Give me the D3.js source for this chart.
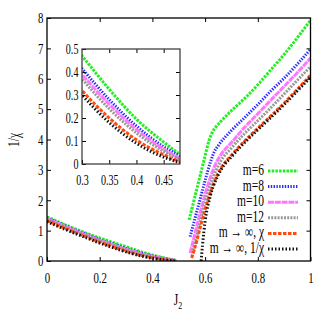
<!DOCTYPE html>
<html>
<head>
<meta charset="utf-8">
<script src="https://cdn.jsdelivr.net/npm/d3@7"></script>
<style>
  body { margin: 0; background: #fff; }
  text { font-family: "Liberation Serif", "DejaVu Serif", serif; }
</style>
</head>
<body>
<div id="chart"></div>
<script>
// left branch (J2 < 0.5), shared grid
const leftJ = [0, 0.05, 0.1, 0.15, 0.2, 0.25, 0.3, 0.35, 0.4, 0.45, 0.475, 0.49];
const m6Left  = [1.45, 1.26, 1.08, 0.91, 0.76, 0.61, 0.47, 0.325, 0.195, 0.095, 0.05, 0.02];
const m8Left  = [1.42, 1.23, 1.05, 0.88, 0.71, 0.56, 0.415, 0.28, 0.165, 0.075, 0.04, 0.015];
const m10Left = [1.40, 1.21, 1.03, 0.86, 0.69, 0.54, 0.39, 0.26, 0.15, 0.065, 0.03, 0.01];
const m12Left = [1.38, 1.19, 1.01, 0.84, 0.67, 0.52, 0.37, 0.24, 0.135, 0.055, 0.025, 0.008];
const chiLeft = [1.33, 1.14, 0.96, 0.79, 0.62, 0.47, 0.32, 0.2, 0.105, 0.04, 0.015, 0.004];
const invLeft = [1.30, 1.11, 0.93, 0.76, 0.59, 0.44, 0.30, 0.18, 0.09, 0.03, 0.01, 0.0];

// right branch (J2 > 0.54), each series has its own start
const m6RightJ = [0.539, 0.56, 0.58, 0.60, 0.615, 0.627, 0.64, 0.66, 0.70, 0.75, 0.80, 0.85, 0.90, 0.95, 1.0];
const m6Right  = [1.35, 2.07, 2.77, 3.46, 3.97, 4.23, 4.4, 4.6, 4.95, 5.35, 5.8, 6.3, 6.8, 7.35, 7.93];
const m8RightJ = [0.543, 0.56, 0.58, 0.60, 0.62, 0.635, 0.65, 0.70, 0.75, 0.80, 0.85, 0.90, 0.95, 1.0];
const m8Right  = [0.8, 1.35, 2.0, 2.65, 3.25, 3.6, 3.8, 4.3, 4.72, 5.15, 5.6, 6.02, 6.48, 6.97];
const m10RightJ = [0.543, 0.56, 0.58, 0.60, 0.62, 0.64, 0.66, 0.70, 0.75, 0.80, 0.85, 0.90, 0.95, 1.0];
const m10Right  = [0.26, 0.85, 1.55, 2.2, 2.75, 3.2, 3.5, 3.9, 4.4, 4.85, 5.3, 5.75, 6.2, 6.68];
const m12RightJ = [0.55, 0.56, 0.58, 0.60, 0.62, 0.64, 0.66, 0.70, 0.75, 0.80, 0.85, 0.90, 0.95, 1.0];
const m12Right  = [0.15, 0.5, 1.25, 1.95, 2.5, 2.95, 3.3, 3.72, 4.2, 4.62, 5.05, 5.5, 5.95, 6.4];
const chiRightJ = [0.549, 0.56, 0.58, 0.60, 0.62, 0.64, 0.66, 0.70, 0.75, 0.80, 0.85, 0.90, 0.95, 1.0];
const chiRight  = [0.1, 0.4, 1.05, 1.7, 2.25, 2.7, 3.05, 3.48, 3.95, 4.37, 4.78, 5.2, 5.65, 6.12];
const invRightJ = [0.585, 0.59, 0.60, 0.62, 0.64, 0.66, 0.70, 0.75, 0.80, 0.85, 0.90, 0.95, 1.0];
const invRight  = [0.0, 0.5, 1.3, 2.15, 2.65, 3.0, 3.43, 3.9, 4.32, 4.73, 5.15, 5.6, 6.05];

const labels = ["m=6", "m=8", "m=10", "m=12", "m \u2192 \u221e, \u03c7", "m \u2192 \u221e, 1/\u03c7"];
const colors = ["#22ee22", "#2a2aff", "#ff77ff", "#999999", "#ff4a10", "#111111"];
const dashes = ["2.5,1.2", "1.4,1.4", "6,0.8", "2,1.2", "3.5,1.5", "1.5,2"];

const xTicks = [0, 0.2, 0.4, 0.6, 0.8, 1];
const yTicks = [0, 1, 2, 3, 4, 5, 6, 7, 8];
const insetXTicks = [0.3, 0.35, 0.4, 0.45];
const insetYTicks = [0, 0.1, 0.2, 0.3, 0.4, 0.5];

const zip = (js, vs) => js.map((j, i) => ({ j: j, v: vs[i] }));
const series = [
    [zip(leftJ, m6Left), zip(m6RightJ, m6Right)],
    [zip(leftJ, m8Left), zip(m8RightJ, m8Right)],
    [zip(leftJ, m10Left), zip(m10RightJ, m10Right)],
    [zip(leftJ, m12Left), zip(m12RightJ, m12Right)],
    [zip(leftJ, chiLeft), zip(chiRightJ, chiRight)],
    [zip(leftJ, invLeft), zip(invRightJ, invRight)]
];

const W = 327, H = 327;
const margin = { top: 18, right: 16.5, bottom: 66, left: 47 };
const width = W - margin.left - margin.right,
      height = H - margin.top - margin.bottom;
const sx = 0.72;

const root = d3.select("#chart").append("svg")
    .attr("width", W).attr("height", H);

const svg = root.append("g")
    .attr("transform", `translate(${margin.left},${margin.top})`);

const x = d3.scaleLinear().domain([0, 1]).range([0, width]);
const y = d3.scaleLinear().domain([0, 8]).range([height, 0]);

svg.append("defs").append("clipPath").attr("id", "mainclip")
    .append("rect").attr("width", width).attr("height", height);

function styleAxis(g, size) {
    g.select(".domain").remove();
    g.selectAll(".tick line").attr("stroke", "#000");
    g.selectAll(".tick text")
        .style("font-size", size + "px")
        .attr("fill", "#000")
        .attr("transform", `scale(${sx},1)`);
}

// axes with inward ticks, mirrored
svg.append("g").attr("transform", `translate(0,${height})`)
    .call(d3.axisBottom(x).tickValues(xTicks).tickSize(-4).tickPadding(11).tickFormat(d3.format("")))
    .call(g => styleAxis(g, 15));
svg.append("g")
    .call(d3.axisTop(x).tickValues(xTicks.slice(1, -1)).tickSize(-4).tickFormat(""))
    .call(g => styleAxis(g, 15));
svg.append("g")
    .call(d3.axisLeft(y).tickValues(yTicks).tickSize(-4).tickPadding(5))
    .call(g => styleAxis(g, 15));
svg.append("g").attr("transform", `translate(${width},0)`)
    .call(d3.axisRight(y).tickValues(yTicks.slice(1, -1)).tickSize(-4).tickFormat(""))
    .call(g => styleAxis(g, 15));

const line = d3.line()
    .x(d => x(d.j))
    .y(d => y(d.v))
    .curve(d3.curveMonotoneX);

const curves = svg.append("g").attr("clip-path", "url(#mainclip)");
series.forEach(function (s, i) {
    curves.selectAll(null)
        .data(s)
        .join("path")
        .attr("fill", "none")
        .attr("stroke", colors[i])
        .attr("stroke-width", 3)
        .attr("stroke-dasharray", dashes[i])
        .attr("d", line);
});

svg.append("rect")
    .attr("width", width).attr("height", height)
    .attr("fill", "none").attr("stroke", "#000").attr("stroke-width", 1.3);

// legend
const legend = svg.selectAll(".legend")
    .data(labels)
    .join("g")
    .attr("transform", (d, i) => `translate(0,${153 + i * 15.6})`);
legend.append("text")
    .attr("transform", `translate(${217},4) scale(${sx},1)`)
    .attr("text-anchor", "end")
    .style("font-size", "16px")
    .text(d => d);
legend.append("line")
    .attr("x1", 221).attr("x2", 251)
    .attr("stroke", (d, i) => colors[i])
    .attr("stroke-width", 3)
    .attr("stroke-dasharray", (d, i) => dashes[i]);

// inset
const inset = { left: 82 - margin.left, top: 49 - margin.top, w: 98, h: 115 };
const ix = d3.scaleLinear().domain([0.3, 0.48]).range([0, inset.w]);
const iy = d3.scaleLinear().domain([0, 0.5]).range([inset.h, 0]);

const ig = svg.append("g").attr("transform", `translate(${inset.left},${inset.top})`);
ig.append("rect").attr("width", inset.w).attr("height", inset.h).attr("fill", "#fff");
ig.append("defs").append("clipPath").attr("id", "insetclip")
    .append("rect").attr("width", inset.w).attr("height", inset.h);

ig.append("g").attr("transform", `translate(0,${inset.h})`)
    .call(d3.axisBottom(ix).tickValues(insetXTicks).tickSize(-4).tickPadding(11).tickFormat(d3.format("")))
    .call(g => styleAxis(g, 14));
ig.append("g")
    .call(d3.axisTop(ix).tickValues(insetXTicks.slice(1)).tickSize(-4).tickFormat(""))
    .call(g => styleAxis(g, 14));
ig.append("g")
    .call(d3.axisLeft(iy).tickValues(insetYTicks).tickSize(-4).tickPadding(5).tickFormat(d3.format("")))
    .call(g => styleAxis(g, 14));
ig.append("g").attr("transform", `translate(${inset.w},0)`)
    .call(d3.axisRight(iy).tickValues(insetYTicks.slice(1, -1)).tickSize(-4).tickFormat(""))
    .call(g => styleAxis(g, 14));

const iline = d3.line()
    .x(d => ix(d.j))
    .y(d => iy(d.v))
    .curve(d3.curveMonotoneX);

const icurves = ig.append("g").attr("clip-path", "url(#insetclip)");
series.forEach(function (s, i) {
    icurves.append("path")
        .datum(s[0])
        .attr("fill", "none")
        .attr("stroke", colors[i])
        .attr("stroke-width", 3)
        .attr("stroke-dasharray", dashes[i])
        .attr("d", iline);
});

ig.append("rect")
    .attr("width", inset.w).attr("height", inset.h)
    .attr("fill", "none").attr("stroke", "#333").attr("stroke-width", 1.2);

// axis titles
root.append("text")
    .attr("transform", `translate(19,140) rotate(-90) scale(${sx},1)`)
    .attr("text-anchor", "middle")
    .style("font-size", "16px")
    .text("1/\u03c7");

const xl = root.append("text")
    .attr("transform", `translate(178,305) scale(${sx},1)`)
    .attr("text-anchor", "middle")
    .style("font-size", "16px");
xl.append("tspan").text("J");
xl.append("tspan").attr("dy", 4).style("font-size", "11px").text("2");
</script>
</body>
</html>
